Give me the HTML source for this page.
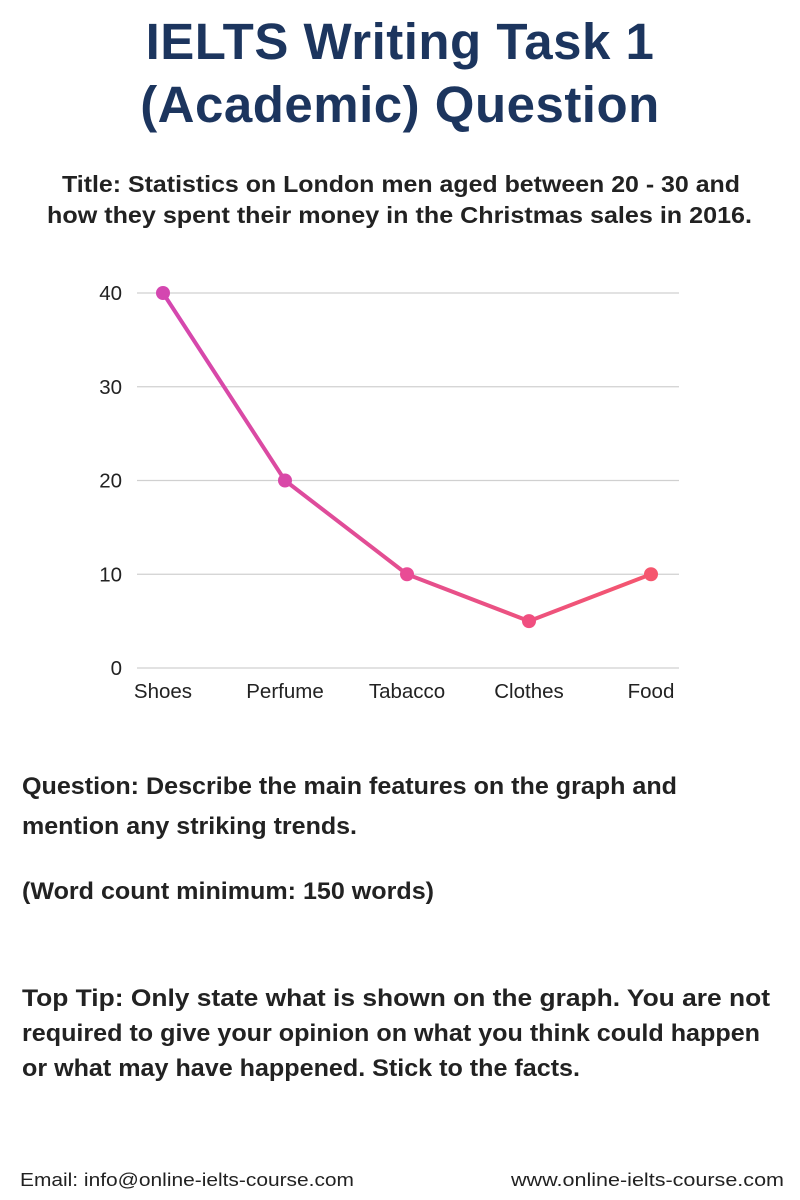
<!DOCTYPE html>
<html><head><meta charset="utf-8"><style>
body{margin:0;width:800px;height:1200px;background:#fff;position:relative;font-family:"Liberation Sans",sans-serif;color:#222;overflow:hidden}
.a{position:absolute;white-space:nowrap}
h1{position:absolute;left:0;width:800px;text-align:center;margin:0;font-size:51px;font-weight:bold;color:#1c355e;letter-spacing:0.5px}
.sub{font-weight:bold;font-size:23.5px;color:#222}
.q{left:22px;font-weight:bold;font-size:24px;color:#222}
.f{font-size:18px;color:#222;top:1170px}
.fit{transform-origin:0 50%}
</style></head><body>
<h1 style="top:12px">IELTS Writing Task 1</h1>
<h1 style="top:75px">(Academic) Question</h1>
<div class="a sub fit" data-w="678" style="top:171px;left:62px">Title: Statistics on London men aged between 20 - 30 and</div>
<div class="a sub fit" data-w="705" style="top:202px;left:47px">how they spent their money in the Christmas sales in 2016.</div>
<svg id="chart" class="a" style="left:0;top:0" width="800" height="720"></svg>
<div class="a q fit" data-w="655" style="top:773px">Question: Describe the main features on the graph and</div>
<div class="a q fit" data-w="335" style="top:813px">mention any striking trends.</div>
<div class="a q fit" data-w="412" style="top:878px">(Word count minimum: 150 words)</div>
<div class="a q fit" data-w="748" style="top:985px">Top Tip: Only state what is shown on the graph. You are not</div>
<div class="a q fit" data-w="738" style="top:1020px">required to give your opinion on what you think could happen</div>
<div class="a q fit" data-w="558" style="top:1055px">or what may have happened. Stick to the facts.</div>
<div class="a f fit" data-w="334" style="left:20px">Email: info@online-ielts-course.com</div>
<div class="a f fit" data-w="273" style="left:511px">www.online-ielts-course.com</div>
<script>
const categories=["Shoes","Perfume","Tabacco","Clothes","Food"];
const values=[40,20,10,5,10];
const yTicks=[0,10,20,30,40];
const NS="http://www.w3.org/2000/svg";
const svg=document.getElementById('chart');
const x0=163,x1=651,yBase=668,yTop=293,yMax=40;
function xs(i){return x0+i*(x1-x0)/(categories.length-1);}
function ys(v){return yBase-(v/yMax)*(yBase-yTop);}
function mk(t,a){const e=document.createElementNS(NS,t);for(const k in a)e.setAttribute(k,a[k]);svg.appendChild(e);return e;}
const defs=mk('defs',{});
const g=document.createElementNS(NS,'linearGradient');g.setAttribute('id','lg');g.setAttribute('gradientUnits','userSpaceOnUse');g.setAttribute('x1',x0);g.setAttribute('x2',x1);g.setAttribute('y1',0);g.setAttribute('y2',0);
g.innerHTML='<stop offset="0" stop-color="#d447b0"/><stop offset="1" stop-color="#f5566e"/>';defs.appendChild(g);
yTicks.forEach(t=>{
 const l=mk('line',{x1:137,x2:679,y1:ys(t),y2:ys(t),stroke:'#d0d0d0','stroke-width':1.2});
 
 
 const tx=mk('text',{x:122,y:ys(t)+7,'text-anchor':'end','font-size':20.5,fill:'#222','font-family':'Liberation Sans, sans-serif'});
 tx.textContent=t;
 
 
});
categories.forEach((c,i)=>{
 const tx=mk('text',{x:xs(i),y:698,'text-anchor':'middle','font-size':20.5,fill:'#222','font-family':'Liberation Sans, sans-serif'});
 tx.textContent=c;
 
 
});
const pts=values.map((v,i)=>xs(i)+','+ys(v)).join(' ');
const pl=mk('polyline',{points:pts,fill:'none',stroke:'url(#lg)','stroke-width':4,'stroke-linejoin':'round'});


const cols=['#d447b0','#d948a8','#e94c95','#f04f80','#f5566e'];
values.forEach((v,i)=>{
 const c=mk('circle',{cx:xs(i),cy:ys(v),r:7,fill:cols[i]});
 
 
});
document.querySelectorAll('.fit').forEach(el=>{
 const target=+el.dataset.w;
 const w=el.getBoundingClientRect().width;
 el.style.transform='scaleX('+(target/w)+')';
});
</script>
</body></html>
